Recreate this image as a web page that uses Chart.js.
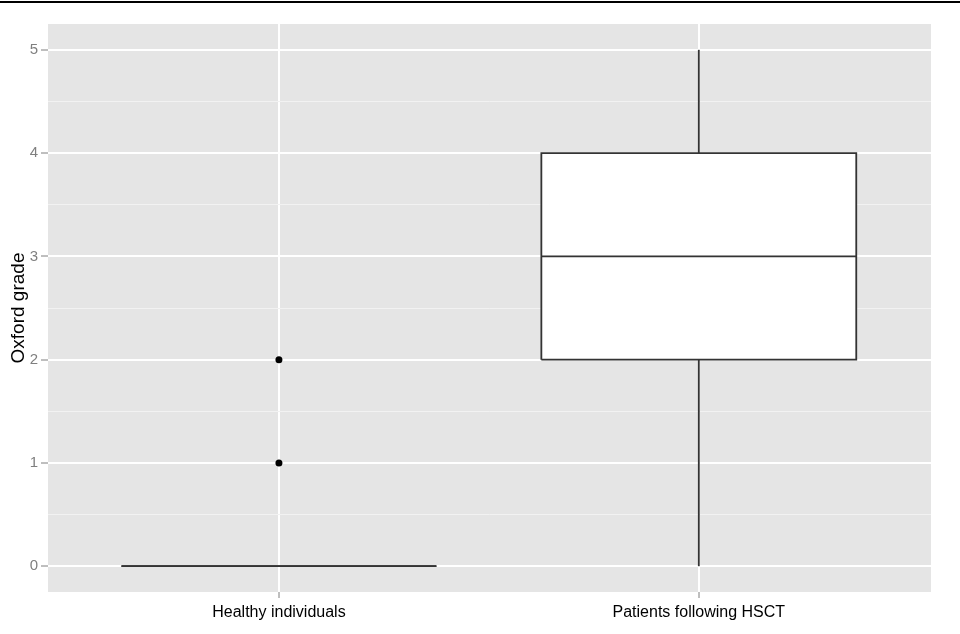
<!DOCTYPE html>
<html>
<head>
<meta charset="utf-8">
<script src="https://cdn.jsdelivr.net/npm/chart.js@4/dist/chart.umd.min.js"></script>
<style>
    html, body { margin: 0; padding: 0; background: #fff; }
    #wrap { position: relative; width: 960px; height: 634px; }
    #topline { position: absolute; left: 0; top: 1px; width: 960px; height: 2px; background: #000; }
</style>
</head>
<body>
<div id="wrap">
    <canvas id="myChart" width="960" height="634"></canvas>
    <div id="topline"></div>
</div>
<script>
// Box plot summary per group
const categories = ['Healthy individuals', 'Patients following HSCT'];
const mins = [0, 0];
const q1s = [0, 2];
const medians = [0, 3];
const q3s = [0, 4];
const maxs = [0, 5];
const outliers = [[1, 2], []];
const yTickValues = [0, 1, 2, 3, 4, 5];
const yMinorValues = [0.5, 1.5, 2.5, 3.5, 4.5];

const BOX_HALF = 0.375;
const LINE = '#333333';
const FONT = 'Liberation Sans, Arial, sans-serif';

document.addEventListener("DOMContentLoaded", () => {
    const ctx = document.getElementById('myChart').getContext('2d');
    createChart(ctx, buildDatasets());
});

function segment(x0, y0, x1, y1, order) {
    return {
        data: [{ x: x0, y: y0 }, { x: x1, y: y1 }],
        showLine: true,
        borderColor: LINE,
        borderWidth: 1.8,
        pointRadius: 0,
        fill: false,
        order
    };
}

function buildDatasets() {
    const datasets = [];
    categories.forEach((cat, i) => {
        const x = i + 1;
        // whiskers
        datasets.push(segment(x, mins[i], x, q1s[i], 3));
        datasets.push(segment(x, q3s[i], x, maxs[i], 3));
        // box
        datasets.push({
            data: [
                { x: x - BOX_HALF, y: q1s[i] },
                { x: x + BOX_HALF, y: q1s[i] },
                { x: x + BOX_HALF, y: q3s[i] },
                { x: x - BOX_HALF, y: q3s[i] },
                { x: x - BOX_HALF, y: q1s[i] }
            ],
            showLine: true,
            borderColor: LINE,
            borderWidth: 1.8,
            backgroundColor: '#ffffff',
            fill: 'shape',
            pointRadius: 0,
            order: 2
        });
        // median
        datasets.push(segment(x - BOX_HALF, medians[i], x + BOX_HALF, medians[i], 1));
        // outliers
        datasets.push({
            data: outliers[i].map(v => ({ x, y: v })),
            showLine: false,
            pointRadius: 3.5,
            pointBackgroundColor: '#000',
            pointBorderColor: '#000',
            pointBorderWidth: 0,
            order: 0
        });
    });
    return datasets;
}

const panelBg = {
    id: 'panelBg',
    beforeDraw(chart) {
        const { ctx, chartArea: a } = chart;
        ctx.save();
        ctx.fillStyle = '#E5E5E5';
        ctx.fillRect(a.left, a.top, a.right - a.left, a.bottom - a.top);
        ctx.restore();
    }
};

function createChart(ctx, datasets) {
    new Chart(ctx, {
        type: 'scatter',
        data: { datasets },
        plugins: [panelBg],
        options: {
            responsive: false,
            animation: false,
            layout: { padding: { top: 24, right: 29, left: 0, bottom: 0 } },
            plugins: {
                legend: { display: false },
                tooltip: { enabled: false }
            },
            scales: {
                x: {
                    type: 'linear',
                    min: 0.45,
                    max: 2.553,
                    afterBuildTicks: s => { s.ticks = categories.map((c, i) => ({ value: i + 1 })); },
                    afterFit: s => { s.height = 42; },
                    border: { display: false },
                    grid: {
                        color: '#ffffff',
                        lineWidth: 2,
                        tickColor: '#7f7f7f',
                        tickWidth: 1,
                        tickLength: 6
                    },
                    ticks: {
                        padding: 5,
                        color: '#000',
                        font: { family: FONT, size: 16 },
                        callback: v => categories[v - 1]
                    }
                },
                y: {
                    min: -0.25,
                    max: 5.25,
                    afterBuildTicks: s => {
                        s.ticks = yTickValues.concat(yMinorValues).sort((a, b) => a - b).map(v => ({ value: v }));
                    },
                    afterFit: s => { s.width = 48; },
                    border: { display: false },
                    grid: {
                        color: c => Number.isInteger(c.tick.value) ? '#ffffff' : '#F2F2F2',
                        lineWidth: c => Number.isInteger(c.tick.value) ? 2 : 1,
                        tickColor: c => Number.isInteger(c.tick.value) ? '#7f7f7f' : 'rgba(0,0,0,0)',
                        tickWidth: 1,
                        tickLength: 7
                    },
                    ticks: {
                        padding: 3,
                        color: '#7f7f7f',
                        font: { family: FONT, size: 15 },
                        callback: v => yTickValues.includes(v) ? String(v) : ''
                    },
                    title: {
                        display: true,
                        text: 'Oxford grade',
                        color: '#000',
                        padding: { top: 7, bottom: 0 },
                        font: { family: FONT, size: 19 }
                    }
                }
            }
        }
    });
}
</script>
</body>
</html>
